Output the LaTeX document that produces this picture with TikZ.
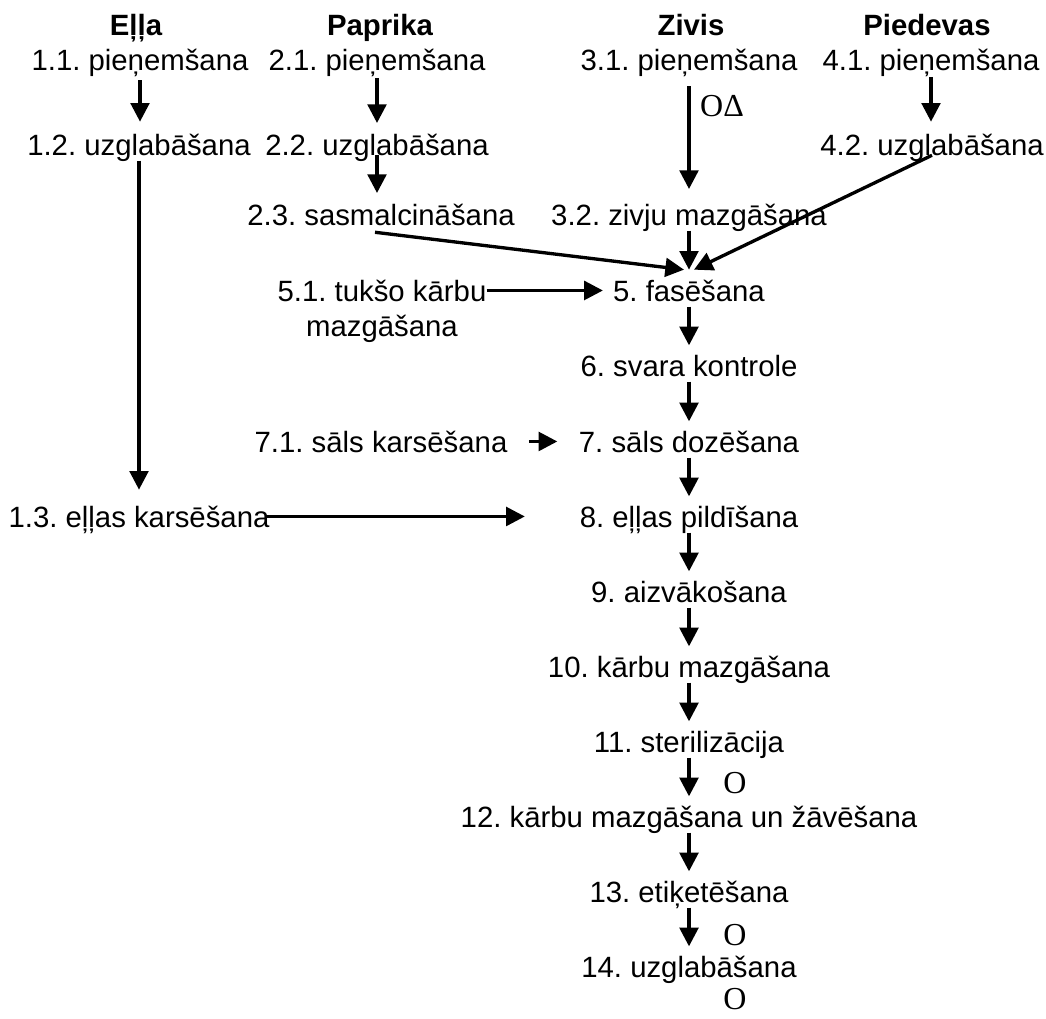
\documentclass[tikz,border=0pt]{standalone}
\usepackage{fontspec}
\setmainfont{Liberation Sans}
\newfontfamily\symfont{Liberation Serif}
\usetikzlibrary{arrows.meta,calc}
\frenchspacing

\begin{document}
\begin{tikzpicture}[x=0.75pt,y=0.75pt,yscale=-1,xscale=1,
  lbl/.style={anchor=base,inner sep=0pt,text height=15.8pt,text depth=0pt,font=\fontsize{22}{26}\selectfont},
  hdr/.style={lbl,font=\fontsize{22}{26}\selectfont\bfseries},
  symb/.style={inner sep=0pt,font=\symfont\fontsize{24}{28}\selectfont},
  arr/.style={line width=2.5pt,-{Triangle[length=14pt,width=14pt]},shorten <=4pt,shorten >=7pt}]
\useasboundingbox (0,0) rectangle (1046,1018);

% Text Node
\node[hdr] (hElla) at (136,35) {Eļļa};
% Text Node
\node[hdr] (hPaprika) at (380,35) {Paprika};
% Text Node
\node[hdr] (hZivis) at (691,35) {Zivis};
% Text Node
\node[hdr] (hPiedevas) at (927,35) {Piedevas};

% Text Node
\node[lbl] (ella1) at (140,70) {1.1. pieņemšana};
% Text Node
\node[lbl] (pap1) at (377,70) {2.1. pieņemšana};
% Text Node
\node[lbl] (ziv1) at (689,70) {3.1. pieņemšana};
% Text Node
\node[lbl] (pied1) at (931,70) {4.1. pieņemšana};
% Text Node
\node[lbl] (ella2) at (139,155) {1.2. uzglabāšana};
% Text Node
\node[lbl] (pap2) at (377,155) {2.2. uzglabāšana};
% Text Node
\node[lbl] (pied2) at (932,155) {4.2. uzglabāšana};
% Text Node
\node[lbl] (pap3) at (381,225) {2.3. sasmalcināšana};
% Text Node
\node[lbl] (ziv2) at (689,225) {3.2. zivju mazgāšana};
% Text Node
\node[lbl,align=center] (kar51) at (382,336) {5.1. tukšo kārbu\\mazgāšana};
% Text Node
\node[lbl] (s5) at (689,301) {5. fasēšana};
% Text Node
\node[lbl] (s6) at (689,376) {6. svara kontrole};
% Text Node
\node[lbl] (sal71) at (381,452) {7.1. sāls karsēšana};
% Text Node
\node[lbl] (s7) at (689,452) {7. sāls dozēšana};
% Text Node
\node[lbl] (ella3) at (139,527) {1.3. eļļas karsēšana};
% Text Node
\node[lbl] (s8) at (689,527) {8. eļļas pildīšana};
% Text Node
\node[lbl] (s9) at (689,602) {9. aizvākošana};
% Text Node
\node[lbl] (s10) at (689,677) {10. kārbu mazgāšana};
% Text Node
\node[lbl] (s11) at (689,752) {11. sterilizācija};
% Text Node
\node[lbl] (s12) at (689,827) {12. kārbu mazgāšana un žāvēšana};
% Text Node
\node[lbl] (s13) at (689,902) {13. etiķetēšana};
% Text Node
\node[lbl] (s14) at (689,977) {14. uzglabāšana};

% Text Node
\node[symb] (odZiv) at (722,106) {OΔ};
% Text Node
\node[symb] (oS11) at (735,783) {O};
% Text Node
\node[symb] (oS13) at (735,935) {O};
% Text Node
\node[symb] (oS14) at (735,999) {O};

% Connection
\draw[arr,shorten <=7.5pt,shorten >=9pt] (ella1.south) -- (ella1.south |- ella2.north);
% Connection
\draw[arr,shorten <=6pt,shorten >=8pt] (pap1.south) -- (pap1.south |- pap2.north);
% Connection
\draw[arr,shorten <=12pt,shorten >=11pt] (ziv1.south) -- (ziv2.north);
% Connection
\draw[arr,shorten <=5pt,shorten >=9pt] (pied1.south) -- (pied1.south |- pied2.north);
% Connection
\draw[arr,shorten <=4pt,shorten >=12pt] (ella2.south) -- (ella2.south |- ella3.north);
% Connection
\draw[arr,shorten <=0pt,shorten >=8pt] (pap2.south) -- (pap2.south |- pap3.north);

% Connection
\coordinate (in5) at ($(s5.north)+(0,-10)$);
\draw[arr,shorten <=0pt,shorten >=0pt] ($(pap3.south)+(-6,7)$) -- ($(in5)+(-5,0)$);
% Connection
\draw[arr,shorten >=0pt] (ziv2.south) -- (in5);
% Connection
\draw[arr,shorten <=0pt,shorten >=0pt] (pied2.south) -- ($(in5)+(5,0)$);

% Connection
\draw[arr,shorten <=0pt,shorten >=7.5pt] (kar51.east |- s5.west) -- (s5.west);
% Connection
\draw[arr,shorten <=16pt,shorten >=16pt] (sal71.east) -- (s7.west);
% Connection
\draw[arr,shorten <=-3pt,shorten >=41pt] (ella3.east) -- (s8.west);

% Connection
\draw[arr] (s5.south) -- (s6.north);
% Connection
\draw[arr] (s6.south) -- (s7.north);
% Connection
\draw[arr] (s7.south) -- (s8.north);
% Connection
\draw[arr] (s8.south) -- (s9.north);
% Connection
\draw[arr] (s9.south) -- (s10.north);
% Connection
\draw[arr] (s10.south) -- (s11.north);
% Connection
\draw[arr] (s11.south) -- (s12.north);
% Connection
\draw[arr] (s12.south) -- (s13.north);
% Connection
\draw[arr] (s13.south) -- (s14.north);

\end{tikzpicture}
\end{document}
